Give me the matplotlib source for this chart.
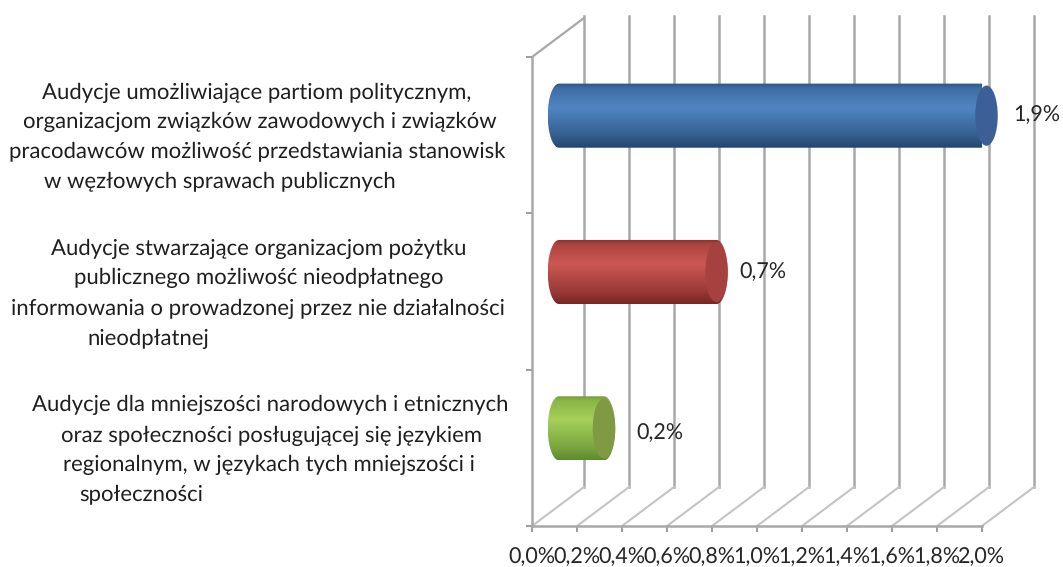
import numpy as np
from matplotlib import pyplot as plt
from matplotlib.patches import PathPatch, Ellipse
from matplotlib.path import Path
from matplotlib.transforms import Affine2D
from matplotlib.colors import to_rgb

values = [1.9, 0.7, 0.2]
value_labels = ['1,9%', '0,7%', '0,2%']
x_ticks = [0.0, 0.2, 0.4, 0.6, 0.8, 1.0, 1.2, 1.4, 1.6, 1.8, 2.0]
x_tick_labels = ['0,0%', '0,2%', '0,4%', '0,6%', '0,8%', '1,0%', '1,2%', '1,4%', '1,6%', '1,8%', '2,0%']
category_lines = [
    ['Audycje umożliwiające partiom politycznym,',
     'organizacjom związków zawodowych i związków',
     'pracodawców możliwość przedstawiania stanowisk',
     'w węzłowych sprawach publicznych'],
    ['Audycje stwarzające organizacjom pożytku',
     'publicznego możliwość nieodpłatnego',
     'informowania o prowadzonej przez nie działalności',
     'nieodpłatnej'],
    ['Audycje dla mniejszości narodowych i etnicznych',
     'oraz społeczności posługującej się językiem',
     'regionalnym, w językach tych mniejszości i',
     'społeczności'],
]

W, H = 1063, 567
FONT = 'Lato'
GRID = '#a8a8a8'
DEPTH_X, DEPTH_Y = 52, 39

line_x = [[42, 23, 9, 44], [51, 74, 11, 87], [32, 61, 63, 79]]
line_y = [[99, 128, 157, 187], [255, 284, 315, 345], [411, 442, 471, 500]]
bar_y = [2.5, 1.5, 0.5]
label_dx = [15, 12, 21]
label_y = [115, 272, 433]
# top edge, middle highlight, bottom edge, end cap
bar_colors = [
    ['#2c5687', '#4f86c2', '#24466f', '#3c5f98'],
    ['#8c2f2d', '#cc5854', '#7a2624', '#a5413e'],
    ['#6f9a35', '#a6d05a', '#5f8a2e', '#7f9a42'],
]

plt.rcParams['font.family'] = [FONT, 'DejaVu Sans']
plt.rcParams['text.hinting'] = 'no_hinting'
fig = plt.figure(figsize=(W / 100, H / 100), dpi=100)
ax = fig.add_axes([532 / W, (H - 526) / H, 450 / W, 469 / H])
ax.set_xlim(0, 2.0)
ax.set_ylim(0, 3)

back = ax.transData + Affine2D().translate(DEPTH_X, DEPTH_Y)
mid = ax.transData + Affine2D().translate(DEPTH_X / 2 + 1, DEPTH_Y / 2)

# walls
for t in x_ticks:
    ax.plot([t, t], [0, 3.01], color=GRID, lw=1.8, transform=back, clip_on=False, zorder=1)
    x0, y0 = ax.transData.transform((t, 0))
    x1, y1 = back.transform((t, 0))
    ax.plot([x0, x1], [y0, y1], color='#c4c4c4', lw=1.5, transform=None, clip_on=False, zorder=1)
x0, y0 = ax.transData.transform((0, 3))
x1, y1 = back.transform((0, 3))
ax.plot([x0, x1], [y0, y1], color=GRID, lw=1.6, transform=None, clip_on=False, zorder=1)

# cylinders
rx = 0.05
ry = 0.205
theta = np.linspace(0, np.pi, 40)
for v, y, cols, dx, ly, lab in zip(values, bar_y, bar_colors, label_dx, label_y, value_labels):
    right = np.column_stack([v + rx * np.sin(theta), y + ry * np.cos(theta)])
    left = np.column_stack([-rx * np.sin(theta[::-1]), y + ry * np.cos(theta[::-1])])
    outline = np.vstack([right, left, right[:1]])
    body = PathPatch(Path(outline), facecolor='none', edgecolor='none', transform=mid, clip_on=False)
    ax.add_patch(body)

    stops = [0.0, 0.08, 0.38, 0.8, 1.0]
    c_top, c_mid, c_bot = [np.array(to_rgb(c)) for c in cols[:3]]
    stop_cols = np.array([c_top, c_top * 0.5 + c_mid * 0.5, c_mid, c_bot * 0.6 + c_mid * 0.4, c_bot])
    pos = np.linspace(0, 1, 128)
    grad = np.stack([np.interp(pos, stops, stop_cols[:, i]) for i in range(3)], axis=1)[:, None, :]
    im = ax.imshow(grad, extent=[-rx, v + rx, y - ry, y + ry], aspect='auto', origin='upper',
                   transform=mid, zorder=3, interpolation='bilinear')
    im.set_clip_path(body)
    im.set_clip_on(True)

    cap = Ellipse((v, y), 2 * rx, 2 * ry * 0.94, facecolor=cols[3], edgecolor='none',
                  transform=mid, zorder=4, clip_on=False)
    ax.add_patch(cap)

    px, _ = mid.transform((v + rx, y))
    fig.text((px + dx) / W, 1 - ly / H, lab, fontsize=15.5, color='#262626', ha='left', va='center', zorder=5)

ax.set_xlim(0, 2.0)
ax.set_ylim(0, 3)

# axes
for name in ['top', 'right']:
    ax.spines[name].set_visible(False)
for name in ['left', 'bottom']:
    ax.spines[name].set_color(GRID)
    ax.spines[name].set_linewidth(1.8)
ax.patch.set_visible(False)
ax.set_xticks(x_ticks)
ax.set_xticklabels(x_tick_labels, fontsize=15.5, color='#262626')
ax.set_yticks([0, 1, 2, 3])
ax.set_yticklabels([])
ax.tick_params(axis='both', color='#8c8c8c', width=1.2, length=4)
ax.tick_params(axis='x', pad=11)

# category labels, placed line by line
for lines, xs, ys in zip(category_lines, line_x, line_y):
    for txt, x, y in zip(lines, xs, ys):
        fig.text(x / W, 1 - y / H, txt, fontsize=15.9, color='#1f1f1f', ha='left', va='baseline')

fig.savefig('out.png', dpi=100)
